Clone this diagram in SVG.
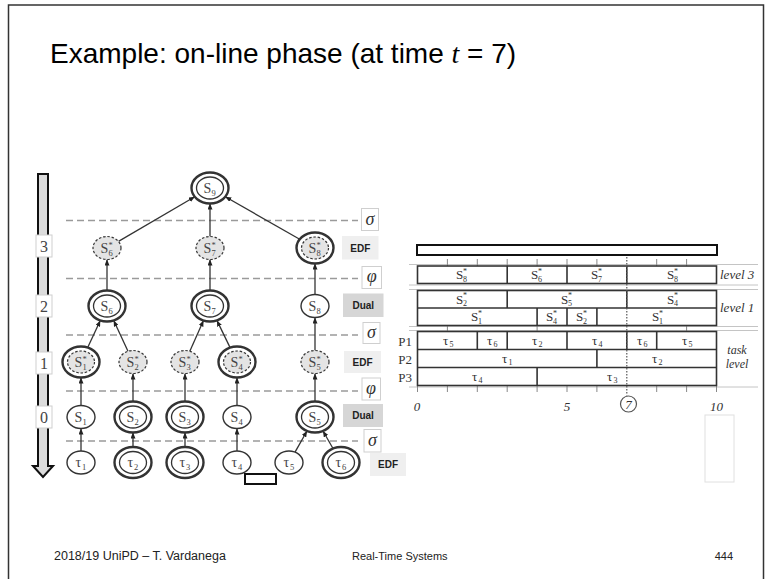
<svg xmlns="http://www.w3.org/2000/svg" width="766" height="579" viewBox="0 0 766 579">
  <style>
    .frame{fill:none;stroke:#333;stroke-width:1.5}
    .title{font-family:"Liberation Sans",Arial,sans-serif;font-size:28px;fill:#000}
    .foot{font-family:"Liberation Sans",Arial,sans-serif;fill:#222}
    .cut{stroke:#9a9a9a;stroke-width:1.6;stroke-dasharray:7 4}
    .edge line{stroke:#333;stroke-width:1.3;marker-end:url(#ah)}
    .one{fill:#fff;stroke:#333;stroke-width:1.4}
    .outer{fill:#fff;stroke:#333;stroke-width:2.4}
    .inner{fill:#fff;stroke:#333;stroke-width:1.3}
    .dash{fill:#e4e4e4;stroke:#333;stroke-width:1.2;stroke-dasharray:2.5 1.8}
    .nl{font-family:"Liberation Serif","Times New Roman",serif;font-size:14px;fill:#444}
    .ns{font-size:8.5px}
    .tag{fill:#fff;stroke:#cfcfcf;stroke-width:1}
    .greek{font-family:"Liberation Serif","DejaVu Serif",serif;font-style:italic;font-size:18px;fill:#333;text-anchor:middle}
    .edf{fill:#efefef}
    .dual{fill:#d6d6d6}
    .alg{font-family:"Liberation Sans",Arial,sans-serif;font-weight:bold;font-size:10px;fill:#222;text-anchor:middle}
    .lvl{font-family:"Liberation Serif",serif;font-size:16px;fill:#444;text-anchor:middle}
    .box{fill:#fff;stroke:#333;stroke-width:1.6}
    .div{stroke:#333;stroke-width:1.6}
    .guide{stroke:#c4c4c4;stroke-width:1}
    .tick{stroke:#888;stroke-width:1}
    .gl{font-family:"Liberation Serif","Times New Roman",serif;font-size:13px;fill:#333}
    .gs{font-size:8px}
    .it{font-family:"Liberation Serif","Times New Roman",serif;font-style:italic;font-size:13px;fill:#333}
    .side{font-family:"Liberation Serif","Times New Roman",serif;font-style:italic;font-size:12px;fill:#333}
  </style>
  <defs>
    <marker id="ah" viewBox="0 0 6 5" refX="6" refY="2.5" markerWidth="6" markerHeight="5" markerUnits="userSpaceOnUse" orient="auto">
      <path d="M0,0 L6,2.5 L0,5 Z" fill="#222"/>
    </marker>
  </defs>

  <!-- slide frame -->
  <rect class="frame" x="8.5" y="5" width="755" height="620"/>

  <!-- title -->
  <text class="title" x="50" y="63">Example: on-line phase (at time <tspan font-family="Liberation Serif,serif" font-style="italic">t</tspan> = 7)</text>

  <!-- reduction level arrow -->
  <g id="level-arrow">
    <path d="M38,174 L48,174 L48,466 L53,466 L43,477 L33,466 L38,466 Z" fill="#dcdcdc" stroke="#111" stroke-width="2"/>
    <rect class="tag" x="36" y="235" width="16" height="22"/>
    <text class="lvl" x="44" y="252">3</text>
    <rect class="tag" x="36" y="295" width="16" height="22"/>
    <text class="lvl" x="44" y="312">2</text>
    <rect class="tag" x="36" y="352" width="16" height="22"/>
    <text class="lvl" x="44" y="369">1</text>
    <rect class="tag" x="36" y="406" width="16" height="22"/>
    <text class="lvl" x="44" y="423">0</text>
  </g>

  <!-- dashed level separators -->
  <g id="level-cuts" class="cut">
    <line x1="66" y1="220.5" x2="358" y2="220.5"/>
    <line x1="66" y1="278.5" x2="358" y2="278.5"/>
    <line x1="66" y1="335" x2="358" y2="335"/>
    <line x1="66" y1="391" x2="358" y2="391"/>
    <line x1="66" y1="441" x2="358" y2="441"/>
  </g>

  <!-- operator / scheduler tags -->
  <g id="tags">
    <rect class="tag" x="361.5" y="208.5" width="17" height="22"/>
    <text class="greek" x="370" y="225">σ</text>
    <rect class="edf" x="342" y="236" width="36.5" height="23.5"/>
    <text class="alg" x="360.3" y="251.5">EDF</text>
    <rect class="tag" x="362" y="266.5" width="19.5" height="22"/>
    <text class="greek" x="371.7" y="282">φ</text>
    <rect class="dual" x="343" y="293.5" width="40.5" height="23.5"/>
    <text class="alg" x="363.3" y="309">Dual</text>
    <rect class="tag" x="363" y="322.5" width="17" height="21"/>
    <text class="greek" x="371.5" y="338">σ</text>
    <rect class="edf" x="344" y="351" width="37" height="22"/>
    <text class="alg" x="362.5" y="365.5">EDF</text>
    <rect class="tag" x="362" y="378" width="18.5" height="22"/>
    <text class="greek" x="371" y="393.5">φ</text>
    <rect class="dual" x="343" y="404" width="40" height="23"/>
    <text class="alg" x="363" y="419">Dual</text>
    <rect class="tag" x="364" y="429.5" width="17" height="22.5"/>
    <text class="greek" x="372.5" y="446">σ</text>
    <rect class="edf" x="370" y="453" width="36" height="23"/>
    <text class="alg" x="388" y="468">EDF</text>
  </g>

  <!-- connectors -->
  <g id="connectors" class="edge">
    <line x1="81" y1="451" x2="81" y2="428.5"/>
    <line x1="133" y1="447" x2="133" y2="432.5"/>
    <line x1="185" y1="447" x2="185" y2="432.5"/>
    <line x1="237" y1="451" x2="237" y2="428.5"/>
    <line x1="295" y1="452.1" x2="307" y2="431"/>
    <line x1="333" y1="448.5" x2="323" y2="431"/>
    <line x1="81" y1="405.5" x2="81" y2="377.5"/>
    <line x1="133" y1="401.5" x2="133" y2="373.5"/>
    <line x1="185" y1="401.5" x2="185" y2="373.5"/>
    <line x1="237" y1="405.5" x2="237" y2="377.5"/>
    <line x1="315" y1="401.5" x2="315" y2="373.5"/>
    <line x1="87.7" y1="347.5" x2="100.3" y2="320.5"/>
    <line x1="128" y1="351.2" x2="113.7" y2="320.5"/>
    <line x1="189.8" y1="351.2" x2="203.5" y2="320.5"/>
    <line x1="230.1" y1="347.6" x2="216.9" y2="320.4"/>
    <line x1="315" y1="350.5" x2="315" y2="317.5"/>
    <line x1="107" y1="290.5" x2="107" y2="259.5"/>
    <line x1="210" y1="290.5" x2="210" y2="259.5"/>
    <line x1="315" y1="294.5" x2="315" y2="263.5"/>
    <line x1="118.5" y1="241.4" x2="194.8" y2="196.8"/>
    <line x1="210" y1="236.5" x2="210" y2="203.5"/>
    <line x1="299.7" y1="239.3" x2="225.3" y2="196.7"/>
  </g>

  <!-- root server -->
  <g id="s9">
    <ellipse class="outer" cx="210" cy="188" rx="18.5" ry="15.5"/>
    <ellipse class="inner" cx="210" cy="188" rx="13.5" ry="11"/>
    <text class="nl" x="203.5" y="193">S<tspan class="ns" x="211.5" y="195.5">9</tspan></text>
  </g>

  <!-- level 3 dual servers -->
  <g id="s6star">
    <ellipse class="dash" cx="107" cy="248" rx="14" ry="11.5"/>
    <text class="nl" x="100.5" y="253">S<tspan class="ns" x="108.5" y="247.5">*</tspan><tspan class="ns" x="108.5" y="256">6</tspan></text>
  </g>
  <g id="s7star">
    <ellipse class="dash" cx="210" cy="248" rx="14" ry="11.5"/>
    <text class="nl" x="203.5" y="253">S<tspan class="ns" x="211.5" y="247.5">*</tspan><tspan class="ns" x="211.5" y="256">7</tspan></text>
  </g>
  <g id="s8star">
    <ellipse class="outer" cx="315" cy="248" rx="18.5" ry="15.5"/>
    <ellipse class="dash" cx="315" cy="248" rx="13.5" ry="11"/>
    <text class="nl" x="308.5" y="253">S<tspan class="ns" x="316.5" y="247.5">*</tspan><tspan class="ns" x="316.5" y="256">8</tspan></text>
  </g>

  <!-- level 2 servers -->
  <g id="s6">
    <ellipse class="outer" cx="107" cy="306" rx="18.5" ry="15.5"/>
    <ellipse class="inner" cx="107" cy="306" rx="13.5" ry="11"/>
    <text class="nl" x="100.5" y="311">S<tspan class="ns" x="108.5" y="313.5">6</tspan></text>
  </g>
  <g id="s7">
    <ellipse class="outer" cx="210" cy="306" rx="18.5" ry="15.5"/>
    <ellipse class="inner" cx="210" cy="306" rx="13.5" ry="11"/>
    <text class="nl" x="203.5" y="311">S<tspan class="ns" x="211.5" y="313.5">7</tspan></text>
  </g>
  <g id="s8">
    <ellipse class="one" cx="315" cy="306" rx="14" ry="11.5"/>
    <text class="nl" x="308.5" y="311">S<tspan class="ns" x="316.5" y="313.5">8</tspan></text>
  </g>

  <!-- level 1 dual servers -->
  <g id="s1star">
    <ellipse class="outer" cx="81" cy="362" rx="18.5" ry="15.5"/>
    <ellipse class="dash" cx="81" cy="362" rx="13.5" ry="11"/>
    <text class="nl" x="74.5" y="367">S<tspan class="ns" x="82.5" y="361.5">*</tspan><tspan class="ns" x="82.5" y="370">1</tspan></text>
  </g>
  <g id="s2star">
    <ellipse class="dash" cx="133" cy="362" rx="14" ry="11.5"/>
    <text class="nl" x="126.5" y="367">S<tspan class="ns" x="134.5" y="361.5">*</tspan><tspan class="ns" x="134.5" y="370">2</tspan></text>
  </g>
  <g id="s3star">
    <ellipse class="dash" cx="185" cy="362" rx="14" ry="11.5"/>
    <text class="nl" x="178.5" y="367">S<tspan class="ns" x="186.5" y="361.5">*</tspan><tspan class="ns" x="186.5" y="370">3</tspan></text>
  </g>
  <g id="s4star">
    <ellipse class="outer" cx="237" cy="362" rx="18.5" ry="15.5"/>
    <ellipse class="dash" cx="237" cy="362" rx="13.5" ry="11"/>
    <text class="nl" x="230.5" y="367">S<tspan class="ns" x="238.5" y="361.5">*</tspan><tspan class="ns" x="238.5" y="370">4</tspan></text>
  </g>
  <g id="s5star">
    <ellipse class="dash" cx="315" cy="362" rx="14" ry="11.5"/>
    <text class="nl" x="308.5" y="367">S<tspan class="ns" x="316.5" y="361.5">*</tspan><tspan class="ns" x="316.5" y="370">5</tspan></text>
  </g>

  <!-- level 0 servers -->
  <g id="s1">
    <ellipse class="one" cx="81" cy="417" rx="14" ry="11.5"/>
    <text class="nl" x="74.5" y="422">S<tspan class="ns" x="82.5" y="424.5">1</tspan></text>
  </g>
  <g id="s2">
    <ellipse class="outer" cx="133" cy="417" rx="18.5" ry="15.5"/>
    <ellipse class="inner" cx="133" cy="417" rx="13.5" ry="11"/>
    <text class="nl" x="126.5" y="422">S<tspan class="ns" x="134.5" y="424.5">2</tspan></text>
  </g>
  <g id="s3">
    <ellipse class="outer" cx="185" cy="417" rx="18.5" ry="15.5"/>
    <ellipse class="inner" cx="185" cy="417" rx="13.5" ry="11"/>
    <text class="nl" x="178.5" y="422">S<tspan class="ns" x="186.5" y="424.5">3</tspan></text>
  </g>
  <g id="s4">
    <ellipse class="one" cx="237" cy="417" rx="14" ry="11.5"/>
    <text class="nl" x="230.5" y="422">S<tspan class="ns" x="238.5" y="424.5">4</tspan></text>
  </g>
  <g id="s5">
    <ellipse class="outer" cx="315" cy="417" rx="18.5" ry="15.5"/>
    <ellipse class="inner" cx="315" cy="417" rx="13.5" ry="11"/>
    <text class="nl" x="308.5" y="422">S<tspan class="ns" x="316.5" y="424.5">5</tspan></text>
  </g>

  <!-- tasks -->
  <g id="t1">
    <ellipse class="one" cx="81" cy="462.5" rx="14" ry="11.5"/>
    <text class="nl" x="75.5" y="467">τ<tspan class="ns" x="82" y="469.5">1</tspan></text>
  </g>
  <g id="t2">
    <ellipse class="outer" cx="133" cy="462.5" rx="18.5" ry="15.5"/>
    <ellipse class="inner" cx="133" cy="462.5" rx="13.5" ry="11"/>
    <text class="nl" x="127.5" y="467">τ<tspan class="ns" x="134" y="469.5">2</tspan></text>
  </g>
  <g id="t3">
    <ellipse class="outer" cx="185" cy="462.5" rx="18.5" ry="15.5"/>
    <ellipse class="inner" cx="185" cy="462.5" rx="13.5" ry="11"/>
    <text class="nl" x="179.5" y="467">τ<tspan class="ns" x="186" y="469.5">3</tspan></text>
  </g>
  <g id="t4">
    <ellipse class="one" cx="237" cy="462.5" rx="14" ry="11.5"/>
    <text class="nl" x="231.5" y="467">τ<tspan class="ns" x="238" y="469.5">4</tspan></text>
  </g>
  <g id="t5">
    <ellipse class="one" cx="289" cy="462.5" rx="14" ry="11.5"/>
    <text class="nl" x="283.5" y="467">τ<tspan class="ns" x="290" y="469.5">5</tspan></text>
  </g>
  <g id="t6">
    <ellipse class="outer" cx="341" cy="462.5" rx="18.5" ry="15.5"/>
    <ellipse class="inner" cx="341" cy="462.5" rx="13.5" ry="11"/>
    <text class="nl" x="335.5" y="467">τ<tspan class="ns" x="342" y="469.5">6</tspan></text>
  </g>

  <!-- small empty box under the tree -->
  <rect x="245" y="474" width="31" height="10" fill="#fff" stroke="#111" stroke-width="2"/>

  <!-- schedule chart -->
  <g id="schedule">
    <rect x="417" y="245" width="300" height="10" fill="#fff" stroke="#111" stroke-width="2"/>

    <g class="guide">
      <line x1="409" y1="264.5" x2="758" y2="264.5"/>
      <line x1="409" y1="285" x2="758" y2="285"/>
      <line x1="409" y1="289.5" x2="758" y2="289.5"/>
      <line x1="409" y1="326.5" x2="758" y2="326.5"/>
      <line x1="409" y1="330.5" x2="758" y2="330.5"/>
      <line x1="409" y1="387" x2="758" y2="387"/>
    </g>

    <g class="tick">
      <line x1="447.4" y1="259" x2="447.4" y2="266"/>
      <line x1="477.3" y1="259" x2="477.3" y2="266"/>
      <line x1="507.2" y1="259" x2="507.2" y2="266"/>
      <line x1="537.1" y1="259" x2="537.1" y2="266"/>
      <line x1="567" y1="259" x2="567" y2="266"/>
      <line x1="596.9" y1="259" x2="596.9" y2="266"/>
      <line x1="656.7" y1="259" x2="656.7" y2="266"/>
      <line x1="686.6" y1="259" x2="686.6" y2="266"/>
      <line x1="447.4" y1="326" x2="447.4" y2="331.5"/>
      <line x1="537.1" y1="326" x2="537.1" y2="331.5"/>
      <line x1="686.6" y1="326" x2="686.6" y2="331.5"/>
      <line x1="417.5" y1="385.5" x2="417.5" y2="392"/>
      <line x1="447.4" y1="385.5" x2="447.4" y2="392"/>
      <line x1="477.3" y1="385.5" x2="477.3" y2="392"/>
      <line x1="507.2" y1="385.5" x2="507.2" y2="392"/>
      <line x1="537.1" y1="385.5" x2="537.1" y2="392"/>
      <line x1="567" y1="385.5" x2="567" y2="392"/>
      <line x1="596.9" y1="385.5" x2="596.9" y2="392"/>
      <line x1="656.7" y1="385.5" x2="656.7" y2="392"/>
      <line x1="686.6" y1="385.5" x2="686.6" y2="392"/>
      <line x1="716.5" y1="385.5" x2="716.5" y2="392"/>
    </g>

    <!-- level 3 row -->
    <rect class="box" x="417.5" y="266" width="299" height="17.5"/>
    <!-- level 1 rows -->
    <rect class="box" x="417.5" y="290.5" width="299" height="35"/>
    <!-- task level rows -->
    <rect class="box" x="417.5" y="331.5" width="299" height="54"/>

    <g class="div">
      <line x1="507.2" y1="266" x2="507.2" y2="283.5"/>
      <line x1="567" y1="266" x2="567" y2="283.5"/>
      <line x1="626.8" y1="266" x2="626.8" y2="283.5"/>
      <line x1="417.5" y1="308" x2="716.5" y2="308"/>
      <line x1="507.2" y1="290.5" x2="507.2" y2="308"/>
      <line x1="626.8" y1="290.5" x2="626.8" y2="308"/>
      <line x1="537.1" y1="308" x2="537.1" y2="325.5"/>
      <line x1="567" y1="308" x2="567" y2="325.5"/>
      <line x1="596.9" y1="308" x2="596.9" y2="325.5"/>
      <line x1="417.5" y1="349.5" x2="716.5" y2="349.5"/>
      <line x1="417.5" y1="367.5" x2="716.5" y2="367.5"/>
      <line x1="477.3" y1="331.5" x2="477.3" y2="349.5"/>
      <line x1="507.2" y1="331.5" x2="507.2" y2="349.5"/>
      <line x1="567" y1="331.5" x2="567" y2="349.5"/>
      <line x1="626.8" y1="331.5" x2="626.8" y2="349.5"/>
      <line x1="656.7" y1="331.5" x2="656.7" y2="349.5"/>
      <line x1="596.9" y1="349.5" x2="596.9" y2="367.5"/>
      <line x1="537.1" y1="367.5" x2="537.1" y2="385.5"/>
    </g>

    <!-- current time marker -->
    <line x1="626.8" y1="257" x2="626.8" y2="395.5" stroke="#555" stroke-width="1.2" stroke-dasharray="1.5 1.5"/>
    <circle cx="628.5" cy="404" r="8" fill="#fff" stroke="#555" stroke-width="1.2"/>
    <text class="it" x="628.5" y="409" text-anchor="middle">7</text>

    <text class="it" x="417" y="411" text-anchor="middle">0</text>
    <text class="it" x="567" y="411" text-anchor="middle">5</text>
    <text class="it" x="716.5" y="411" text-anchor="middle">10</text>

    <text class="gl" x="412" y="346" text-anchor="end">P1</text>
    <text class="gl" x="412" y="364" text-anchor="end">P2</text>
    <text class="gl" x="412" y="382" text-anchor="end">P3</text>

    <text class="it" x="720" y="279">level 3</text>
    <text class="it" x="720" y="312">level 1</text>
    <text class="side" x="737" y="354" text-anchor="middle">task</text>
    <text class="side" x="737" y="368" text-anchor="middle">level</text>

    <!-- level 3 slots -->
    <text class="gl" x="456" y="279">S<tspan class="gs" x="463" y="273.5">*</tspan><tspan class="gs" x="463" y="281.5">8</tspan></text>
    <text class="gl" x="531" y="279">S<tspan class="gs" x="538" y="273.5">*</tspan><tspan class="gs" x="538" y="281.5">6</tspan></text>
    <text class="gl" x="591" y="279">S<tspan class="gs" x="598" y="273.5">*</tspan><tspan class="gs" x="598" y="281.5">7</tspan></text>
    <text class="gl" x="667" y="279">S<tspan class="gs" x="674" y="273.5">*</tspan><tspan class="gs" x="674" y="281.5">8</tspan></text>
    <!-- level 1 slots -->
    <text class="gl" x="456" y="303.5">S<tspan class="gs" x="463" y="298">*</tspan><tspan class="gs" x="463" y="306">2</tspan></text>
    <text class="gl" x="561" y="303.5">S<tspan class="gs" x="568" y="298">*</tspan><tspan class="gs" x="568" y="306">5</tspan></text>
    <text class="gl" x="667" y="303.5">S<tspan class="gs" x="674" y="298">*</tspan><tspan class="gs" x="674" y="306">4</tspan></text>
    <text class="gl" x="471" y="321">S<tspan class="gs" x="478" y="315.5">*</tspan><tspan class="gs" x="478" y="323.5">1</tspan></text>
    <text class="gl" x="546" y="321">S<tspan class="gs" x="553" y="315.5">*</tspan><tspan class="gs" x="553" y="323.5">4</tspan></text>
    <text class="gl" x="576" y="321">S<tspan class="gs" x="583" y="315.5">*</tspan><tspan class="gs" x="583" y="323.5">2</tspan></text>
    <text class="gl" x="652" y="321">S<tspan class="gs" x="659" y="315.5">*</tspan><tspan class="gs" x="659" y="323.5">1</tspan></text>
    <!-- task slots -->
    <text class="gl" x="443" y="344.5">τ<tspan class="gs" x="449.5" y="347">5</tspan></text>
    <text class="gl" x="487" y="344.5">τ<tspan class="gs" x="493.5" y="347">6</tspan></text>
    <text class="gl" x="532" y="344.5">τ<tspan class="gs" x="538.5" y="347">2</tspan></text>
    <text class="gl" x="592" y="344.5">τ<tspan class="gs" x="598.5" y="347">4</tspan></text>
    <text class="gl" x="637" y="344.5">τ<tspan class="gs" x="643.5" y="347">6</tspan></text>
    <text class="gl" x="682" y="344.5">τ<tspan class="gs" x="688.5" y="347">5</tspan></text>
    <text class="gl" x="502" y="362.5">τ<tspan class="gs" x="508.5" y="365">1</tspan></text>
    <text class="gl" x="652" y="362.5">τ<tspan class="gs" x="658.5" y="365">2</tspan></text>
    <text class="gl" x="472" y="380.5">τ<tspan class="gs" x="478.5" y="383">4</tspan></text>
    <text class="gl" x="607" y="380.5">τ<tspan class="gs" x="613.5" y="383">3</tspan></text>
  </g>

  <!-- faint empty box below the chart -->
  <rect x="705" y="415" width="29" height="67" fill="none" stroke="#e0e0e0" stroke-width="1"/>

  <!-- footer -->
  <text class="foot" x="54" y="560" font-size="12.5">2018/19 UniPD – T. Vardanega</text>
  <text class="foot" x="352" y="560" font-size="11">Real-Time Systems</text>
  <text class="foot" x="733" y="560" font-size="11" text-anchor="end">444</text>
</svg>
